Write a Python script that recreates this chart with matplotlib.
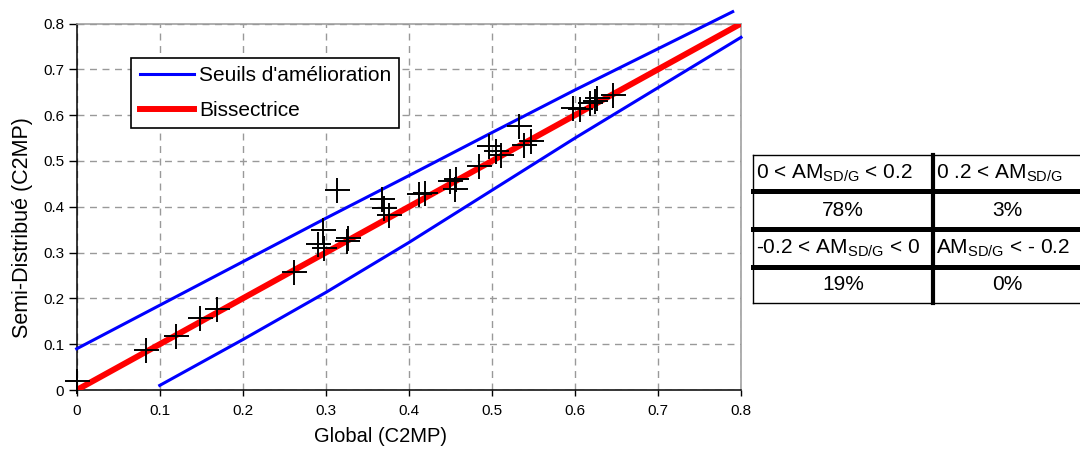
import matplotlib
matplotlib.use('Agg')
import matplotlib.pyplot as plt

plt.rcParams['font.family'] = ['Liberation Sans', 'DejaVu Sans']
plt.rcParams['mathtext.fontset'] = 'custom'
plt.rcParams['mathtext.rm'] = 'Liberation Sans'

# points C2MP : global vs semi-distribue
glob = [0.0, 0.083, 0.119, 0.148, 0.169, 0.262, 0.313, 0.297, 0.290, 0.298,
        0.325, 0.327, 0.368, 0.370, 0.376, 0.412, 0.420, 0.449, 0.457, 0.455,
        0.485, 0.497, 0.505, 0.511, 0.533, 0.539, 0.547, 0.598, 0.606, 0.618,
        0.624, 0.626, 0.646]
semi = [0.020, 0.087, 0.117, 0.157, 0.177, 0.257, 0.437, 0.350, 0.319, 0.309,
        0.325, 0.332, 0.416, 0.398, 0.383, 0.428, 0.430, 0.456, 0.460, 0.438,
        0.489, 0.532, 0.521, 0.514, 0.576, 0.536, 0.543, 0.616, 0.613, 0.627,
        0.631, 0.638, 0.645]

# seuils d'amelioration
haut_x = [0.0, 0.1, 0.2, 0.3, 0.4, 0.5, 0.6, 0.7, 0.79]
haut_y = [0.09, 0.185, 0.28, 0.375, 0.468, 0.562, 0.655, 0.745, 0.826]
bas_x = [0.1, 0.2, 0.3, 0.4, 0.5, 0.6, 0.7, 0.8]
bas_y = [0.01, 0.11, 0.213, 0.322, 0.436, 0.55, 0.66, 0.77]
biss = [0.0, 0.8]

ticks = [0, 0.1, 0.2, 0.3, 0.4, 0.5, 0.6, 0.7, 0.8]
tick_labels = ['0', '0.1', '0.2', '0.3', '0.4', '0.5', '0.6', '0.7', '0.8']

sub = r'$\mathregular{_{SD/G}}$'
table_txt = [['0 < AM' + sub + ' < 0.2', '0 .2 < AM' + sub],
             ['78%', '3%'],
             ['-0.2 < AM' + sub + ' < 0', 'AM' + sub + ' < - 0.2'],
             ['19%', '0%']]


def draw_chart(fig):
    ax = fig.add_axes([76.7 / 1080, 60 / 450, 664.3 / 1080, 366.4 / 450])
    ax.set_axisbelow(True)
    ax.grid(True, color='#999999', linestyle=(0, (5, 4)), lw=1)

    ax.plot(haut_x, haut_y, color='#0000ff', lw=2.2, clip_on=False,
            label="Seuils d'amélioration", zorder=3)
    ax.plot(bas_x, bas_y, color='#0000ff', lw=2.2, clip_on=False, zorder=3)
    ax.plot(biss, biss, color='#ff0000', lw=4.3, label='Bissectrice', zorder=3)
    ax.plot(glob, semi, ls='none', marker='+', ms=18, mew=1.4, color='black',
            clip_on=False, zorder=4)

    ax.set_xlim(0, 0.8)
    ax.set_ylim(0, 0.8)
    ax.set_xticks(ticks)
    ax.set_xticklabels(tick_labels)
    ax.set_yticks(ticks)
    ax.set_yticklabels(tick_labels)
    ax.tick_params(axis='x', length=4, width=1, pad=6, labelsize=11)
    ax.tick_params(axis='y', length=6, width=1, pad=3, labelsize=11)

    for s in ['left', 'bottom']:
        ax.spines[s].set_color('black')
        ax.spines[s].set_linewidth(1.1)
    for s in ['top', 'right']:
        ax.spines[s].set_color('#999999')
        ax.spines[s].set_linewidth(1.1)

    ax.set_xlabel('Global (C2MP)', fontsize=14.5)
    ax.xaxis.set_label_coords(0.458, -0.10)
    ax.set_ylabel('Semi-Distribué (C2MP)', fontsize=15.5)
    ax.yaxis.set_label_coords(-0.066, 0.443)

    leg = ax.legend(loc='upper left', bbox_to_anchor=(0.082, 0.906),
                    borderaxespad=0, fontsize=15, fancybox=False,
                    framealpha=1, edgecolor='black', handlelength=2.6,
                    handletextpad=0.25, labelspacing=0.75, borderpad=0.4)
    leg.get_frame().set_linewidth(1.2)
    return ax


def draw_table(fig):
    tab = fig.add_axes([753 / 1080, 1 - 303 / 450, 328 / 1080, 148 / 450])
    tab.set_xlim(753, 1081)
    tab.set_ylim(303, 155)
    tab.axis('off')

    rows = [155, 191, 229, 267, 303]
    cols = [753, 933, 1081]
    tab.plot([753, 1081], [155, 155], color='black', lw=1, clip_on=False)
    tab.plot([753, 1081], [303, 303], color='black', lw=1, clip_on=False)
    for r in rows[1:-1]:
        tab.plot([753, 1081], [r, r], color='black', lw=3.6, clip_on=False)
    tab.plot([753, 753], [155, 303], color='black', lw=1, clip_on=False)
    tab.plot([933, 933], [155, 303], color='black', lw=3, clip_on=False)

    for i, row in enumerate(table_txt):
        yc = (rows[i] + rows[i + 1]) / 2
        for j, txt in enumerate(row):
            if i % 2 == 0:
                tab.text(cols[j] + 3, yc, txt, ha='left', va='center',
                         fontsize=15)
            else:
                tab.text((cols[j] + cols[j + 1]) / 2, yc, txt, ha='center',
                         va='center', fontsize=15)


if __name__ == '__main__':
    fig = plt.figure(figsize=(10.8, 4.5), dpi=100)
    draw_chart(fig)
    draw_table(fig)
    fig.savefig('out.png', dpi=100)
